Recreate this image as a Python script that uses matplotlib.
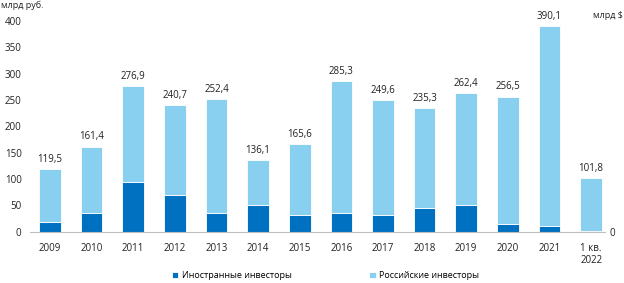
import numpy as np
import matplotlib.pyplot as plt

plt.rcParams['font.family'] = ['Open Sans', 'DejaVu Sans']

# data
years = ['2009', '2010', '2011', '2012', '2013', '2014', '2015', '2016',
         '2017', '2018', '2019', '2020', '2021', '1 кв.\n2022']
total = [119.5, 161.4, 276.9, 240.7, 252.4, 136.1, 165.6, 285.3,
         249.6, 235.3, 262.4, 256.5, 390.1, 101.8]
foreign = [19, 35, 94, 69, 35, 51, 32, 35, 31, 46, 50, 15, 11, 1.5]
russian = [t - f for t, f in zip(total, foreign)]

dark = '#0070C0'
light = '#89CFF0'

fig = plt.figure(figsize=(6.24, 2.83), dpi=100)
ax = fig.add_axes([0.048, 0.181, 0.922, 0.745])

x = np.arange(len(years))
w = 0.52
ax.bar(x, foreign, w, color=dark, edgecolor='white', linewidth=0.6,
       label='Иностранные инвесторы')
ax.bar(x, russian, w, bottom=foreign, color=light, edgecolor='white',
       linewidth=0.6, label='Российские инвесторы')

# totals above bars
for i, t in enumerate(total):
    ax.text(i, t + 8, f'{t:.1f}'.replace('.', ','), ha='center', va='bottom',
            fontsize=7, color='#222222')

ax.set_xlim(-0.48, 13.34)
ax.set_ylim(0, 400)
ax.set_yticks(np.arange(0, 401, 50))
ax.set_xticks(x)
ax.set_xticklabels(years)
ax.tick_params(axis='both', length=0, labelsize=7, colors='#222222')
ax.tick_params(axis='x', pad=8)
ax.tick_params(axis='y', pad=6)
for s in ['top', 'right', 'left']:
    ax.spines[s].set_visible(False)
ax.spines['bottom'].set_color('#BFBFBF')
ax.spines['bottom'].set_linewidth(0.8)

# right axis with only zero
ax2 = ax.twinx()
ax2.set_ylim(0, 400)
ax2.set_yticks([0])
ax2.tick_params(axis='y', length=0, labelsize=7, colors='#222222', pad=3)
for s in ax2.spines.values():
    s.set_visible(False)

fig.text(0.002, 0.997, 'млрд руб.', fontsize=6.5, color='#222222', va='top')
fig.text(0.998, 0.96, 'млрд $', fontsize=6.5, color='#222222', va='top', ha='right')

fig.legend(loc='lower center', bbox_to_anchor=(0.522, -0.018), ncol=2, frameon=False,
           fontsize=6.5, handlelength=0.7, handleheight=0.7, handletextpad=0.4,
           columnspacing=8.6)

fig.savefig('out.png', dpi=100)
